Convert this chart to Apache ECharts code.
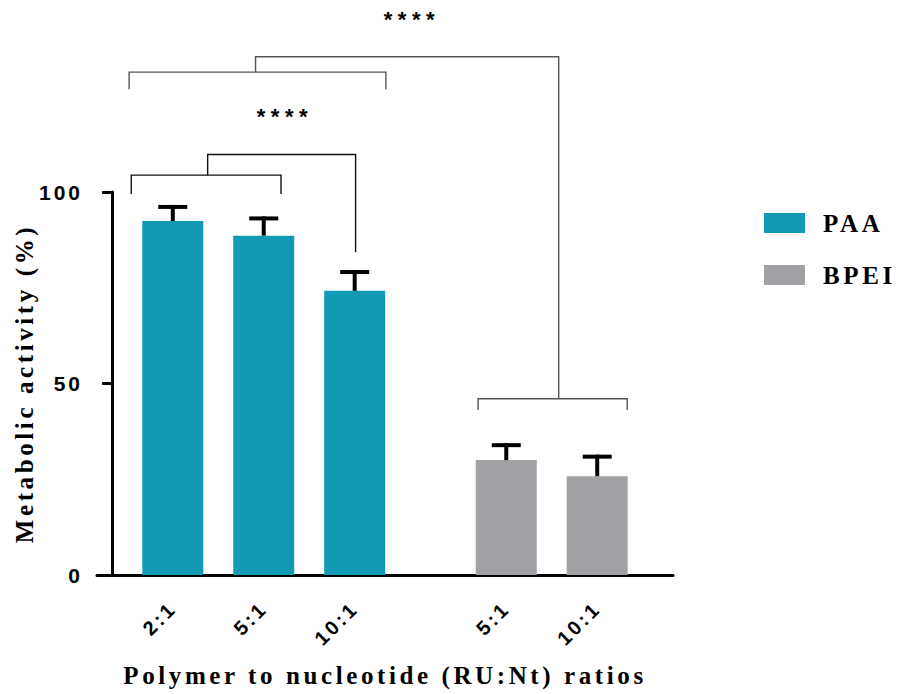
<!DOCTYPE html>
<html>
<head>
<meta charset="utf-8">
<script src="https://cdn.jsdelivr.net/npm/echarts@6/dist/echarts.min.js"></script>
<style>
html,body{margin:0;padding:0;background:#fff;}
#chart{width:902px;height:694px;}
</style>
</head>
<body>
<div id="chart"></div>
<script>
// ---------------- data ----------------
const tickLabels = ['2:1', '5:1', '10:1', '5:1', '10:1'];
const groupOf    = ['PAA', 'PAA', 'PAA', 'BPEI', 'BPEI'];
const meanValues = [92.4, 88.6, 74.2, 30.0, 25.8];
const errValues  = [3.7, 4.5, 4.9, 3.9, 5.1];
const seriesNames = ['PAA', 'BPEI'];
const yTicks = [0, 50, 100];

// significance annotations (x in category-slot units, y in % units)
const bracketSpans = [      // [xStart, xEnd, level, legBottom]
  [0.63, 5.57, 104.4, 99.5],
  [0.56, 9.03, 131.3, 126.8],
  [12.07, 16.99, 46.0, 43.1]
];
const connectorPaths = [
  [[3.15, 104.4], [3.15, 109.8], [8.03, 109.8], [8.03, 84.3]],
  [[4.73, 131.3], [4.73, 135.3], [14.73, 135.3], [14.73, 46.0]]
];
const starTexts = ['****', '****'];
const starPos = [[5.60, 120.6], [9.79, 145.9]];

// ---------------- layout ----------------
const slotCount = 19;
const barSlots = [2, 5, 8, 13, 16];
const colors = { PAA: '#1299B4', BPEI: '#A1A0A5' };
const spanColors = ['#111', '#555', '#555'];
const connectorColors = ['#111', '#555'];

const categories = new Array(slotCount).fill('');
barSlots.forEach((s, i) => { categories[s] = tickLabels[i]; });

function barData(name) {
  const d = new Array(slotCount).fill('-');
  barSlots.forEach((s, i) => { if (groupOf[i] === name) d[s] = meanValues[i]; });
  return d;
}

const polylines = [];
bracketSpans.forEach((s, i) => polylines.push({
  pts: [[s[0], s[3]], [s[0], s[2]], [s[1], s[2]], [s[1], s[3]]], color: spanColors[i]
}));
connectorPaths.forEach((p, i) => polylines.push({ pts: p, color: connectorColors[i] }));

const serif = "'Liberation Serif', 'Times New Roman', serif";
const sans = "'Liberation Sans', Arial, sans-serif";

const chart = echarts.init(document.getElementById('chart'), null, { renderer: 'svg' });

const option = {
  animation: false,
  backgroundColor: '#fff',
  grid: { left: 97, top: 192, width: 576, height: 383, outerBoundsMode: 'none' },
  legend: {
    orient: 'vertical',
    left: 759, top: 204,
    itemWidth: 41, itemHeight: 20, itemGap: 24,
    icon: 'rect',
    data: seriesNames,
    textStyle: { fontFamily: serif, fontWeight: 'bold', fontSize: 25, color: '#000', padding: [0, 0, 0, 13], lineHeight: 28 }
  },
  xAxis: [{
    type: 'category',
    data: categories,
    name: 'Polymer to nucleotide (RU:Nt) ratios',
    nameLocation: 'middle',
    nameGap: 88,
    nameTextStyle: { fontFamily: serif, fontWeight: 'bold', fontSize: 25, color: '#000' },
    axisLine: { lineStyle: { color: '#000', width: 3 } },
    axisTick: {
      alignWithLabel: true, length: 10,
      interval: (idx) => barSlots.indexOf(idx) >= 0,
      lineStyle: { color: '#000', width: 3 }
    },
    axisLabel: {
      interval: 0, rotate: 45, margin: 30,
      fontFamily: sans, fontWeight: 'bold', fontSize: 20, color: '#000'
    },
    splitLine: { show: false }
  }, {
    type: 'value', min: -0.5, max: slotCount - 0.5, show: false
  }],
  yAxis: {
    type: 'value', min: 0, max: 100, interval: 50,
    name: 'Metabolic activity (%)',
    nameLocation: 'middle',
    nameGap: 60,
    nameTextStyle: { fontFamily: serif, fontWeight: 'bold', fontSize: 25, color: '#000' },
    axisLine: { show: true, lineStyle: { color: '#000', width: 3 } },
    axisTick: { show: true, length: 10, lineStyle: { color: '#000', width: 3 } },
    axisLabel: { margin: 14, fontFamily: sans, fontWeight: 'bold', fontSize: 21, color: '#000' },
    splitLine: { show: false }
  },
  series: [
    {
      name: 'PAA', type: 'bar', data: barData('PAA'), barWidth: 61, barGap: '-100%',
      itemStyle: { color: colors.PAA }, z: 2
    },
    {
      name: 'BPEI', type: 'bar', data: barData('BPEI'), barWidth: 61, barGap: '-100%',
      itemStyle: { color: colors.BPEI }, z: 2
    },
    {
      type: 'custom', name: 'err', z: 3,
      data: barSlots.map((s, i) => [s, meanValues[i], errValues[i]]),
      encode: { x: 0, y: 1 },
      renderItem: function (params, api) {
        const x = api.value(0), m = api.value(1), e = api.value(2);
        const p0 = api.coord([x, m]);
        const p1 = api.coord([x, m + e]);
        return {
          type: 'group',
          children: [
            { type: 'line', shape: { x1: p0[0], y1: p0[1], x2: p1[0], y2: p1[1] - 2 }, style: { stroke: '#000', lineWidth: 4 } },
            { type: 'line', shape: { x1: p1[0] - 14.5, y1: p1[1], x2: p1[0] + 14.5, y2: p1[1] }, style: { stroke: '#000', lineWidth: 4 } }
          ]
        };
      }
    },
    {
      type: 'custom', name: 'brackets', xAxisIndex: 1, yAxisIndex: 0, clip: false, z: 4,
      data: polylines.map(p => p.pts[0]),
      renderItem: function (params, api) {
        const pl = polylines[params.dataIndex];
        return {
          type: 'polyline',
          shape: { points: pl.pts.map(p => api.coord(p)) },
          style: { stroke: pl.color, lineWidth: 1.4, fill: null }
        };
      }
    },
    {
      type: 'custom', name: 'stars', xAxisIndex: 1, yAxisIndex: 0, clip: false, z: 4,
      data: starPos,
      renderItem: function (params, api) {
        const p = api.coord([api.value(0), api.value(1)]);
        return {
          type: 'text',
          style: {
            text: starTexts[params.dataIndex], x: p[0] + 3, y: p[1] + 3,
            align: 'center', verticalAlign: 'middle',
            font: "bold 22px 'Liberation Sans', Arial, sans-serif", fill: '#000'
          }
        };
      }
    }
  ]
};
chart.setOption(option);

function applySpacing() {
  document.querySelectorAll('#chart svg text').forEach(t => {
    const s = (t.getAttribute('style') || '') + (t.getAttribute('font-family') || '');
    const txt = t.textContent;
    if (txt === '****') t.style.letterSpacing = '5.5px';
    else if (s.indexOf('Serif') >= 0) t.style.letterSpacing = '3.6px';
    else t.style.letterSpacing = '3px';
  });
}
applySpacing();
chart.on('finished', applySpacing);
</script>
</body>
</html>
